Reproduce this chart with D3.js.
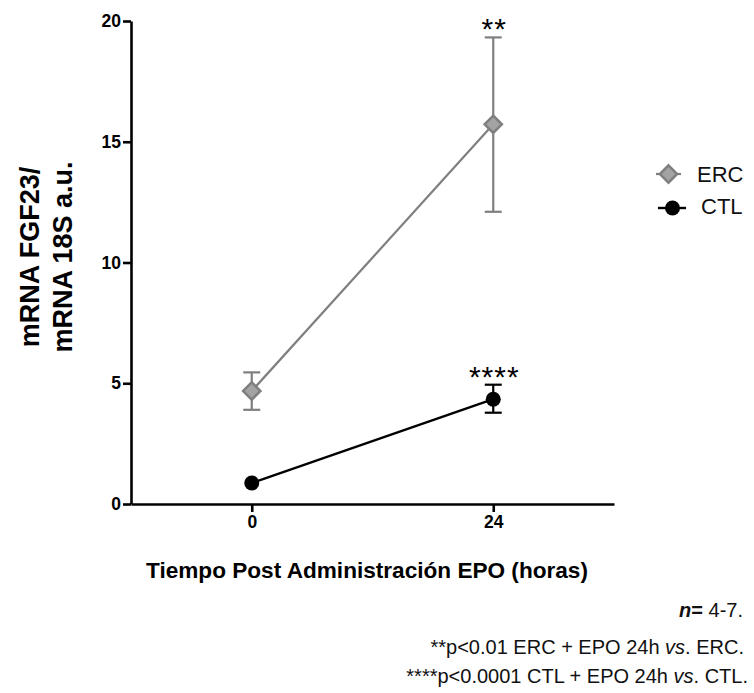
<!DOCTYPE html>
<html>
<head>
<meta charset="utf-8">
<script src="https://cdn.jsdelivr.net/npm/d3@7"></script>
<style>
  html, body { margin: 0; padding: 0; background: #fff; }
  svg { display: block; font-family: Arial, "Liberation Sans", sans-serif; }
</style>
</head>
<body>
<svg id="chart" width="754" height="693"></svg>
<script>
// Time points (hours after EPO administration)
const hours = [0, 24];
// Group means and error bounds (mRNA FGF23 / mRNA 18S, a.u.)
const ercMean = [4.68, 15.72];
const ercLow  = [3.9, 12.1];
const ercHigh = [5.45, 19.32];
const ctlMean = [0.87, 4.34];
const ctlLow  = [null, 3.78];
const ctlHigh = [null, 4.94];
// Significance marks at 24 h
const ercStars = ["", "**"];
const ctlStars = ["", "****"];
const yTicks = [0, 5, 10, 15, 20];
const xTicks = [0, 24];
const seriesNames = ["ERC", "CTL"];
const footnotes = [
  [{t: "n", b: true, i: true}, {t: "= ", b: true}, {t: "4-7."}],
  [{t: "**p<0.01 ERC + EPO 24h "}, {t: "vs", i: true}, {t: ". ERC."}],
  [{t: "****p<0.0001 CTL + EPO 24h "}, {t: "vs", i: true}, {t: ". CTL."}]
];

const svg = d3.select("#chart");
const x = d3.scaleLinear().domain([-12, 36]).range([131, 614]);
const y = d3.scaleLinear().domain([0, 20]).range([504, 21]);

const ercLine = "#7f7f7f", ercFill = "#a3a3a3";
const ctlColor = "#000";

// Axes
const yAxis = svg.append("g").attr("transform", `translate(${x(-12)},0)`)
  .call(d3.axisLeft(y).tickValues(yTicks).tickSize(8).tickSizeOuter(0).tickPadding(2));
const xAxis = svg.append("g").attr("transform", `translate(0,${y(0)})`)
  .call(d3.axisBottom(x).tickValues(xTicks).tickSize(8).tickSizeOuter(0).tickPadding(4));
[yAxis, xAxis].forEach(g => {
  g.select(".domain").attr("stroke", "#000").attr("stroke-width", 2.6);
  g.selectAll(".tick line").attr("stroke", "#000").attr("stroke-width", 2.6);
  g.selectAll(".tick text").attr("fill", "#000").attr("font-size", 17.5)
    .attr("font-weight", "bold").attr("font-family", "Arial, 'Liberation Sans', sans-serif");
});

// Axis titles
svg.append("text").attr("x", 367).attr("y", 578).attr("text-anchor", "middle")
  .attr("font-size", 22.6).attr("font-weight", "bold").attr("fill", "#000")
  .text("Tiempo Post Administración EPO (horas)");
const yt = svg.append("text").attr("transform", "rotate(-90)")
  .attr("text-anchor", "middle").attr("font-size", 27).attr("font-weight", "bold").attr("fill", "#000");
yt.append("tspan").attr("x", -257).attr("y", 39).text("mRNA FGF23/");
yt.append("tspan").attr("x", -257).attr("y", 72).text("mRNA 18S a.u.");

// Error bars
function errorBars(low, high, color) {
  const g = svg.append("g").attr("stroke", color).attr("stroke-width", 2.2);
  hours.forEach((h, i) => {
    if (low[i] == null) return;
    const cx = x(h);
    g.append("line").attr("x1", cx).attr("x2", cx).attr("y1", y(low[i])).attr("y2", y(high[i]));
    [low[i], high[i]].forEach(v => g.append("line")
      .attr("x1", cx - 8.5).attr("x2", cx + 8.5).attr("y1", y(v)).attr("y2", y(v)));
  });
}
errorBars(ercLow, ercHigh, ercLine);
errorBars(ctlLow, ctlHigh, ctlColor);

// Connecting lines
const line = d3.line().x((d, i) => x(hours[i])).y(d => y(d));
svg.append("path").datum(ercMean).attr("d", line).attr("fill", "none")
  .attr("stroke", ercLine).attr("stroke-width", 2.2);
svg.append("path").datum(ctlMean).attr("d", line).attr("fill", "none")
  .attr("stroke", ctlColor).attr("stroke-width", 2.4);

// Markers
const diamond = d3.symbol().type(d3.symbolDiamond2).size(190);
svg.append("g").selectAll("path").data(ercMean).join("path")
  .attr("transform", (d, i) => `translate(${x(hours[i])},${y(d)})`)
  .attr("d", diamond).attr("fill", ercFill).attr("stroke", ercLine).attr("stroke-width", 2.5);
svg.append("g").selectAll("circle").data(ctlMean).join("circle")
  .attr("cx", (d, i) => x(hours[i])).attr("cy", d => y(d)).attr("r", 7.5).attr("fill", ctlColor);

// Significance stars above the upper error caps
function stars(labels, tops) {
  svg.append("g").selectAll("text").data(labels).join("text")
    .attr("x", (d, i) => x(hours[i]) + 1).attr("y", (d, i) => tops[i] == null ? 0 : y(tops[i]) + 2)
    .attr("text-anchor", "middle").attr("font-size", 30).attr("letter-spacing", 1)
    .attr("fill", "#000").text(d => d);
}
stars(ercStars, ercHigh);
stars(ctlStars, ctlHigh);

// Legend
const lg = svg.append("g");
lg.append("line").attr("x1", 656).attr("x2", 681).attr("y1", 174).attr("y2", 174)
  .attr("stroke", ercLine).attr("stroke-width", 2.2);
lg.append("path").attr("transform", "translate(668.5,174)").attr("d", diamond)
  .attr("fill", ercFill).attr("stroke", ercLine).attr("stroke-width", 2.5);
lg.append("line").attr("x1", 658).attr("x2", 686).attr("y1", 208).attr("y2", 208)
  .attr("stroke", ctlColor).attr("stroke-width", 2.4);
lg.append("circle").attr("cx", 672.5).attr("cy", 208).attr("r", 7.5).attr("fill", ctlColor);
lg.selectAll("text").data(seriesNames).join("text")
  .attr("x", (d, i) => i === 0 ? 697 : 701).attr("y", (d, i) => 182 + i * 32)
  .attr("font-size", 22).attr("fill", "#111").text(d => d);

// Footnotes, right-aligned
const fy = [617, 654, 683];
const fx = [743, 744, 748];
footnotes.forEach((parts, k) => {
  const t = svg.append("text").attr("x", fx[k]).attr("y", fy[k]).attr("text-anchor", "end")
    .attr("font-size", 20).attr("fill", "#111");
  parts.forEach(p => t.append("tspan")
    .attr("font-weight", p.b ? "bold" : null)
    .attr("font-style", p.i ? "italic" : null).text(p.t));
});
</script>
</body>
</html>
